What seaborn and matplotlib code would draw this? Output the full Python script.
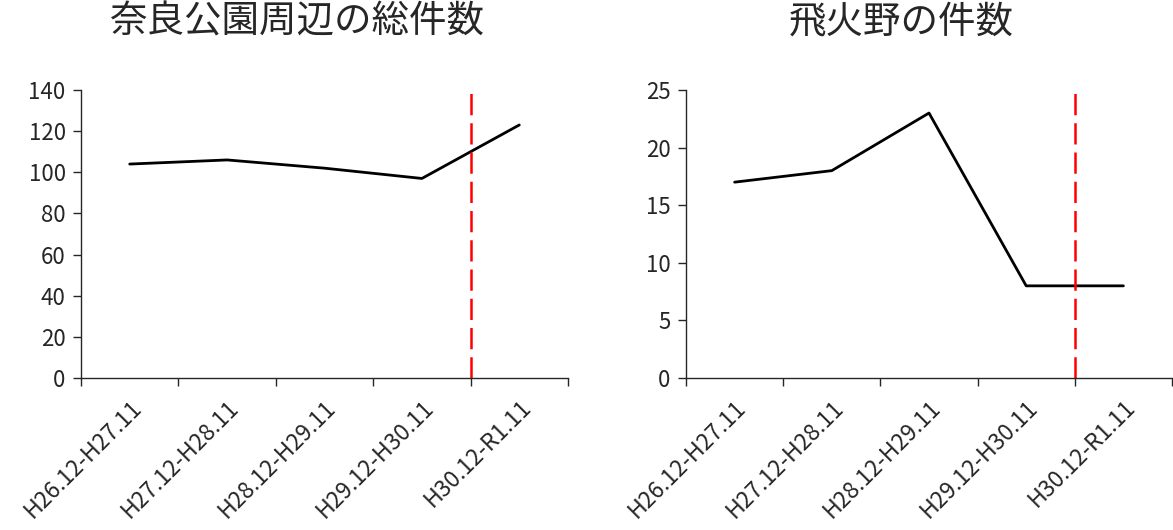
"""
奈良公園周辺・飛火野の件数推移
"""
import pandas as pd
import matplotlib.pyplot as plt
import seaborn as sns

# --- データ ---
periods = ['H26.12-H27.11', 'H27.12-H28.11', 'H28.12-H29.11', 'H29.12-H30.11', 'H30.12-R1.11']
nara_park_total = [104, 106, 102, 97, 123]
tobihino_count = [17, 18, 23, 8, 8]

titles = ['奈良公園周辺の総件数', '飛火野の件数']
y_limits = [(0, 140), (0, 25)]
y_steps = [20, 5]

sns.set_style('white')
plt.rcParams['font.family'] = ['Noto Sans CJK JP', 'DejaVu Sans']
plt.rcParams['axes.unicode_minus'] = False

TEXT = '#262626'


def draw_panel(ax, values, title, ylim, step):
    df = pd.DataFrame({'期間': periods, '件数': values})
    sns.lineplot(data=df, x='期間', y='件数', ax=ax, color='black', linewidth=2.0)

    n = len(periods)
    ax.set_xlim(-0.5, n - 0.5)
    ax.set_ylim(*ylim)
    ax.set_yticks(range(ylim[0], ylim[1] + 1, step))

    # 目盛り線はカテゴリの境界、ラベルは中央
    ax.set_xticks(range(n))
    ax.set_xticklabels(periods, rotation=45, ha='right', rotation_mode='anchor',
                       fontsize=16.5, color=TEXT)
    ax.set_xticks([i - 0.5 for i in range(n + 1)], minor=True)
    ax.tick_params(axis='x', which='major', bottom=True, length=0, pad=13)
    ax.tick_params(axis='x', which='minor', bottom=True, length=5.5, width=1.0,
                   color=TEXT, direction='out')
    ax.tick_params(axis='y', left=True, length=6, width=1.0, color=TEXT, direction='out',
                   labelsize=16, labelcolor=TEXT, pad=5)

    for side in ['top', 'right']:
        ax.spines[side].set_visible(False)
    for side in ['left', 'bottom']:
        ax.spines[side].set_color(TEXT)
        ax.spines[side].set_linewidth(1.0)

    # H30.12以降の区切り線
    ax.axvline(n - 1.5, ymin=0, ymax=1.015, color='#ff0000', linewidth=1.8,
               dashes=(8.5, 3.2), clip_on=False)

    ax.set_xlabel('')
    ax.set_ylabel('')
    ax.text(0.442, 1.236, title, transform=ax.transAxes, ha='center', va='center',
            fontsize=27, color=TEXT)


fig = plt.figure(figsize=(11.73, 5.30), dpi=100)
ax1 = fig.add_axes([81 / 1173, 152 / 530, 487 / 1173, 288 / 530])
ax2 = fig.add_axes([686 / 1173, 152 / 530, 486 / 1173, 288 / 530])

draw_panel(ax1, nara_park_total, titles[0], y_limits[0], y_steps[0])
draw_panel(ax2, tobihino_count, titles[1], y_limits[1], y_steps[1])

fig.savefig('out.png', dpi=100, facecolor='white')
plt.close(fig)
